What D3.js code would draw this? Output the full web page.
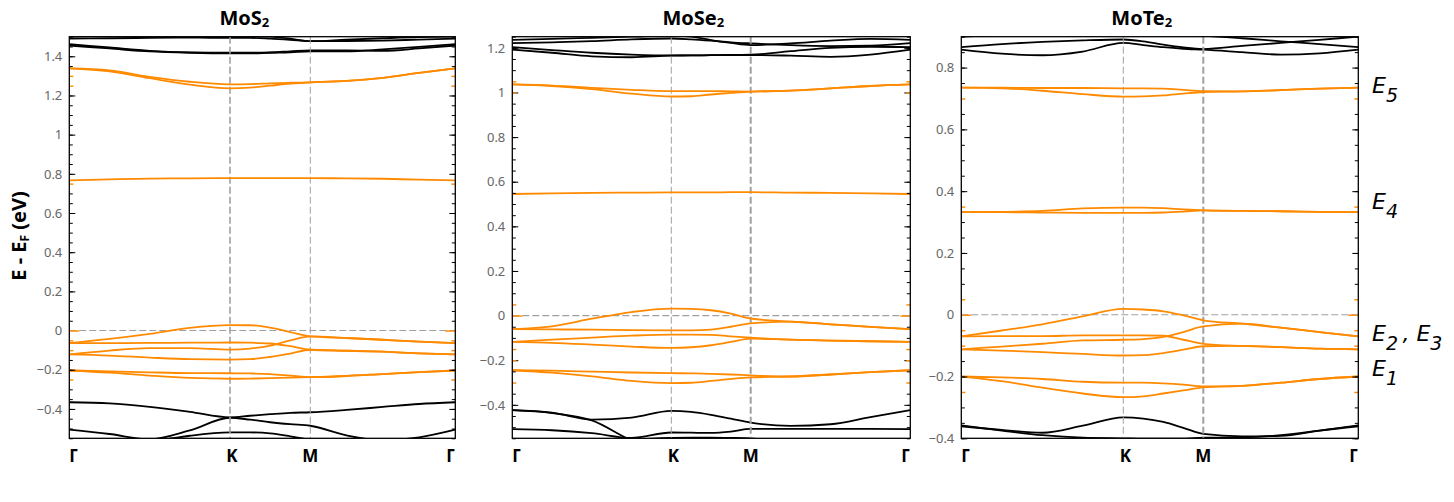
<!DOCTYPE html>
<html>
<head>
<meta charset="utf-8">
<script src="https://cdn.jsdelivr.net/npm/d3@7"></script>
<style>
  body { margin: 0; background: #fff; }
  svg { display: block; font-family: "Noto Sans", "Open Sans", sans-serif; }
</style>
</head>
<body>
<svg id="chart" width="1454" height="502"></svg>
<script>
// k-path positions: 0 = Γ, 1 = K, 2 = M, 3 = Γ
var kGrid = [0, 0.25, 0.5, 0.75, 1, 1.25, 1.5, 1.75, 2, 2.25, 2.5, 2.75, 3];
var kNames = ["Γ", "K", "M", "Γ"];
var kPos = [0, 1, 2, 3];

// y tick labels per panel
var mos2Ticks = [-0.4, -0.2, 0, 0.2, 0.4, 0.6, 0.8, 1, 1.2, 1.4];
var mose2Ticks = [-0.4, -0.2, 0, 0.2, 0.4, 0.6, 0.8, 1, 1.2];
var mote2Ticks = [-0.4, -0.2, 0, 0.2, 0.4, 0.6, 0.8];

// minor ticks that show in orange on the frame
var mos2OrangeTicks = [1.3, 1.25, 0.75, 0, -0.05, -0.1, -0.25];
var mose2OrangeTicks = [1.05, 1.0, 0.05, 0, -0.15, -0.2, -0.3];
var mote2OrangeTicks = [0.7, 0.35, 0.05, 0, -0.05, -0.1, -0.25];

// MoS2 bands (eV), read on kGrid
var mos2Orange = [
  [1.338, 1.328, 1.295, 1.27, 1.257, 1.258, 1.262, 1.265, 1.267, 1.274, 1.29, 1.315, 1.338],
  [1.338, 1.323, 1.288, 1.255, 1.236, 1.24, 1.25, 1.26, 1.267, 1.274, 1.29, 1.315, 1.338],
  [0.767, 0.772, 0.776, 0.777, 0.778, 0.778, 0.778, 0.778, 0.778, 0.777, 0.775, 0.77, 0.767],
  [-0.064, -0.043, -0.017, 0.014, 0.028, 0.027, 0.015, -0.008, -0.03, -0.038, -0.047, -0.057, -0.064],
  [-0.064, -0.064, -0.063, -0.062, -0.061, -0.062, -0.066, -0.08, -0.098, -0.103, -0.108, -0.116, -0.122],
  [-0.122, -0.102, -0.09, -0.09, -0.097, -0.092, -0.077, -0.05, -0.03, -0.038, -0.047, -0.057, -0.064],
  [-0.122, -0.128, -0.138, -0.146, -0.148, -0.146, -0.135, -0.118, -0.098, -0.103, -0.108, -0.116, -0.122],
  [-0.204, -0.208, -0.213, -0.217, -0.218, -0.219, -0.222, -0.23, -0.238, -0.232, -0.222, -0.212, -0.204],
  [-0.204, -0.215, -0.23, -0.242, -0.246, -0.245, -0.243, -0.24, -0.238, -0.232, -0.222, -0.212, -0.204]
];
var mos2Black = [
  [1.50, 1.505, 1.51, 1.51, 1.51, 1.505, 1.50, 1.49, 1.477, 1.478, 1.48, 1.485, 1.49],
  [1.49, 1.492, 1.494, 1.495, 1.494, 1.494, 1.49, 1.484, 1.477, 1.485, 1.492, 1.498, 1.50],
  [1.462, 1.445, 1.428, 1.42, 1.418, 1.418, 1.42, 1.425, 1.43, 1.43, 1.428, 1.44, 1.455],
  [1.455, 1.44, 1.425, 1.418, 1.415, 1.415, 1.418, 1.42, 1.425, 1.425, 1.435, 1.448, 1.462],
  [-0.366, -0.372, -0.39, -0.415, -0.443, -0.435, -0.427, -0.42, -0.417, -0.405, -0.39, -0.375, -0.366],
  [-0.506, -0.528, -0.555, -0.51, -0.445, -0.455, -0.468, -0.478, -0.486, -0.535, -0.56, -0.545, -0.506],
  [-0.62, -0.61, -0.57, -0.537, -0.52, -0.52, -0.525, -0.54, -0.558, -0.6, -0.62, -0.62, -0.62]
];

// MoSe2 bands
var mose2Orange = [
  [1.036, 1.031, 1.021, 1.012, 1.006, 1.006, 1.006, 1.005, 1.004, 1.008, 1.018, 1.029, 1.036],
  [1.036, 1.029, 1.015, 0.995, 0.982, 0.983, 0.991, 0.998, 1.004, 1.008, 1.018, 1.029, 1.036],
  [0.545, 0.548, 0.55, 0.551, 0.552, 0.552, 0.552, 0.553, 0.553, 0.551, 0.55, 0.548, 0.545],
  [-0.061, -0.048, -0.014, 0.016, 0.031, 0.03, 0.024, 0.009, -0.013, -0.027, -0.039, -0.051, -0.061],
  [-0.061, -0.062, -0.063, -0.065, -0.066, -0.066, -0.063, -0.05, -0.035, -0.027, -0.039, -0.051, -0.061],
  [-0.118, -0.108, -0.099, -0.09, -0.085, -0.085, -0.086, -0.093, -0.099, -0.108, -0.112, -0.115, -0.118],
  [-0.118, -0.122, -0.13, -0.139, -0.145, -0.142, -0.133, -0.118, -0.103, -0.108, -0.112, -0.115, -0.118],
  [-0.245, -0.247, -0.251, -0.255, -0.258, -0.259, -0.261, -0.264, -0.268, -0.273, -0.264, -0.253, -0.245],
  [-0.245, -0.256, -0.272, -0.293, -0.303, -0.301, -0.293, -0.284, -0.277, -0.273, -0.264, -0.253, -0.245]
];
var mose2Black = [
  [1.192, 1.178, 1.162, 1.158, 1.165, 1.166, 1.167, 1.168, 1.168, 1.165, 1.16, 1.17, 1.192],
  [1.203, 1.19, 1.178, 1.17, 1.166, 1.166, 1.167, 1.168, 1.169, 1.185, 1.2, 1.205, 1.203],
  [1.221, 1.225, 1.23, 1.238, 1.242, 1.238, 1.232, 1.225, 1.22, 1.212, 1.208, 1.21, 1.221],
  [1.236, 1.24, 1.245, 1.25, 1.255, 1.25, 1.235, 1.222, 1.212, 1.22, 1.232, 1.24, 1.236],
  [-0.424, -0.435, -0.466, -0.457, -0.427, -0.432, -0.445, -0.462, -0.48, -0.494, -0.487, -0.455, -0.424],
  [-0.424, -0.437, -0.47, -0.56, -0.62, -0.62, -0.62, -0.62, -0.62, -0.62, -0.62, -0.62, -0.62],
  [-0.509, -0.514, -0.527, -0.548, -0.524, -0.525, -0.526, -0.52, -0.508, -0.508, -0.508, -0.508, -0.509],
  [-0.65, -0.63, -0.6, -0.56, -0.548, -0.547, -0.547, -0.548, -0.55, -0.57, -0.6, -0.63, -0.65]
];

// MoTe2 bands
var mote2Orange = [
  [0.735, 0.735, 0.734, 0.734, 0.733, 0.733, 0.732, 0.728, 0.724, 0.723, 0.727, 0.732, 0.735],
  [0.735, 0.733, 0.725, 0.714, 0.706, 0.707, 0.71, 0.716, 0.721, 0.723, 0.727, 0.732, 0.735],
  [0.332, 0.333, 0.336, 0.344, 0.347, 0.347, 0.345, 0.341, 0.338, 0.336, 0.335, 0.333, 0.332],
  [0.332, 0.332, 0.331, 0.33, 0.33, 0.33, 0.331, 0.334, 0.338, 0.336, 0.335, 0.333, 0.332],
  [-0.07, -0.051, -0.031, -0.005, 0.019, 0.017, 0.011, -0.002, -0.018, -0.029, -0.042, -0.056, -0.07],
  [-0.07, -0.069, -0.069, -0.067, -0.067, -0.067, -0.068, -0.081, -0.094, -0.101, -0.105, -0.11, -0.112],
  [-0.112, -0.103, -0.094, -0.083, -0.081, -0.079, -0.072, -0.056, -0.038, -0.029, -0.042, -0.056, -0.07],
  [-0.112, -0.116, -0.121, -0.127, -0.132, -0.131, -0.124, -0.113, -0.102, -0.101, -0.105, -0.11, -0.112],
  [-0.2, -0.203, -0.208, -0.217, -0.22, -0.22, -0.222, -0.226, -0.232, -0.23, -0.22, -0.208, -0.2],
  [-0.2, -0.215, -0.236, -0.255, -0.267, -0.264, -0.255, -0.245, -0.235, -0.23, -0.22, -0.208, -0.2]
];
var mote2Black = [
  [0.858, 0.845, 0.84, 0.852, 0.88, 0.873, 0.866, 0.861, 0.858, 0.85, 0.842, 0.846, 0.858],
  [0.866, 0.876, 0.883, 0.888, 0.891, 0.885, 0.874, 0.865, 0.86, 0.87, 0.88, 0.89, 0.9],
  [0.9, 0.905, 0.91, 0.91, 0.905, 0.905, 0.905, 0.905, 0.903, 0.895, 0.885, 0.876, 0.866],
  [-0.361, -0.373, -0.382, -0.359, -0.332, -0.336, -0.347, -0.366, -0.386, -0.394, -0.392, -0.375, -0.361],
  [-0.358, -0.375, -0.39, -0.398, -0.4, -0.401, -0.401, -0.401, -0.398, -0.397, -0.39, -0.375, -0.358]
];

// level labels placed beside the MoTe2 panel
var levelNames = ["5", "4", "2", "1"];

var ORANGE = "#ff8a00";
var GRID = "#a0a0a0";
var yTop = 36.7, yBot = 438.3;

var panels = [
  { title: "MoS", x0: 69.3, x1: 455.3, xK: 230, xM: 310.3, dom: [-0.55, 1.5],
    ticks: mos2Ticks, oTicks: mos2OrangeTicks, orange: mos2Orange, black: mos2Black, kw: 1.6, mw: 1 },
  { title: "MoSe", x0: 512.3, x1: 910.3, xK: 671.3, xM: 750.7, dom: [-0.55, 1.25],
    ticks: mose2Ticks, oTicks: mose2OrangeTicks, orange: mose2Orange, black: mose2Black, kw: 1, mw: 2 },
  { title: "MoTe", x0: 961.3, x1: 1358.3, xK: 1123.3, xM: 1203.3, dom: [-0.4, 0.9],
    ticks: mote2Ticks, oTicks: mote2OrangeTicks, orange: mote2Orange, black: mote2Black, kw: 1, mw: 2 }
];

var svg = d3.select("#chart");
svg.append("rect").attr("width", 1454).attr("height", 502).attr("fill", "#fff");
var defs = svg.append("defs");
var fmt = d3.format("~g");

// draws an axis group with no domain line and ticks in the given colour
function tickAxis(xpos, axis, color, width){
  var g = svg.append("g").attr("transform", "translate(" + xpos + ",0)").call(axis);
  g.select(".domain").remove();
  g.selectAll(".tick line").attr("stroke", color).attr("stroke-width", width);
  return g;
}

panels.forEach(function(p, pi){
  var x = d3.scaleLinear().domain(kPos).range([p.x0, p.xK, p.xM, p.x1]);
  var y = d3.scaleLinear().domain(p.dom).range([yBot, yTop]);

  defs.append("clipPath").attr("id", "clip" + pi)
    .append("rect")
    .attr("x", p.x0).attr("y", yTop)
    .attr("width", p.x1 - p.x0).attr("height", yBot - yTop);

  var line = d3.line()
    .x(function(d, i){ return x(kGrid[i]); })
    .y(function(d){ return y(d); })
    .curve(d3.curveMonotoneX);

  var plot = svg.append("g").attr("clip-path", "url(#clip" + pi + ")");

  plot.selectAll("path.black").data(p.black).enter()
    .append("path").attr("class", "black")
    .attr("d", line)
    .attr("fill", "none").attr("stroke", "#000").attr("stroke-width", 1.8);

  // high-symmetry lines and Fermi level
  plot.append("line")
    .attr("x1", x(1)).attr("x2", x(1)).attr("y1", yTop).attr("y2", yBot)
    .attr("stroke", GRID).attr("stroke-width", p.kw).attr("stroke-dasharray", "7,3");
  plot.append("line")
    .attr("x1", x(2)).attr("x2", x(2)).attr("y1", yTop).attr("y2", yBot)
    .attr("stroke", GRID).attr("stroke-width", p.mw).attr("stroke-dasharray", "7,3");
  plot.append("line")
    .attr("x1", p.x0).attr("x2", p.x1).attr("y1", y(0)).attr("y2", y(0))
    .attr("stroke", GRID).attr("stroke-width", 1.1).attr("stroke-dasharray", "7,3");

  plot.selectAll("path.orange").data(p.orange).enter()
    .append("path").attr("class", "orange")
    .attr("d", line)
    .attr("fill", "none").attr("stroke", ORANGE).attr("stroke-width", 1.8);

  // ticks
  var minor = d3.range(Math.ceil(p.dom[0] / 0.05 - 1e-9), Math.floor(p.dom[1] / 0.05 + 1e-9) + 1)
    .map(function(i){ return +(i * 0.05).toFixed(2); })
    .filter(function(v){ return p.oTicks.indexOf(v) < 0; });
  var major = p.ticks.filter(function(v){ return v !== 0; });

  var axL = tickAxis(p.x0, d3.axisLeft(y).tickValues(major).tickSize(-6).tickPadding(7).tickFormat(fmt), "#000", 1);
  // zero label (its tick is the orange one)
  axL.append("text").attr("x", -7).attr("y", y(0)).attr("dy", "0.32em")
    .attr("text-anchor", "end").text("0");
  axL.selectAll("text").attr("fill", "#666").style("font-size", "13px")
    .style("font-family", '"Noto Sans", sans-serif');

  tickAxis(p.x0, d3.axisLeft(y).tickValues(minor).tickSize(-3.5).tickFormat(""), "#000", 1);
  tickAxis(p.x1, d3.axisRight(y).tickValues(major).tickSize(-6).tickFormat(""), "#000", 1);
  tickAxis(p.x1, d3.axisRight(y).tickValues(minor).tickSize(-3.5).tickFormat(""), "#000", 1);

  // orange frame ticks (the zero one runs a bit longer)
  var oL = tickAxis(p.x0, d3.axisLeft(y).tickValues(p.oTicks).tickSize(-4).tickFormat(""), ORANGE, 1.4);
  var oR = tickAxis(p.x1, d3.axisRight(y).tickValues(p.oTicks).tickSize(-4).tickFormat(""), ORANGE, 1.4);
  oL.selectAll(".tick line").attr("x2", function(d){ return d === 0 ? 10 : 4; });
  oR.selectAll(".tick line").attr("x2", function(d){ return d === 0 ? -10 : -4; });

  // frame
  svg.append("rect")
    .attr("x", p.x0).attr("y", yTop)
    .attr("width", p.x1 - p.x0).attr("height", yBot - yTop)
    .attr("fill", "none").attr("stroke", "#000").attr("stroke-width", 1.3);

  // k labels
  svg.selectAll(null).data(kNames).enter().append("text")
    .attr("x", function(d, i){ return x(kPos[i]) + (i === 1 ? 2 : 0); })
    .attr("y", 461.5)
    .attr("text-anchor", function(d, i){ return i === 0 ? "start" : (i === 3 ? "end" : "middle"); })
    .style("font-size", "17px").style("font-weight", "bold")
    .text(function(d){ return d; });

  // title
  var t = svg.append("text")
    .attr("x", (p.x0 + p.x1) / 2 - 18).attr("y", 25)
    .attr("text-anchor", "middle")
    .style("font-size", "20px").style("font-weight", "bold");
  t.append("tspan").text(p.title);
  t.append("tspan").attr("dy", 2).style("font-size", "13px").text("2");
});

// y-axis label
var yl = svg.append("text")
  .attr("transform", "translate(26,236) rotate(-90)")
  .attr("text-anchor", "middle")
  .style("font-size", "20px").style("font-weight", "bold");
yl.append("tspan").text("E - E");
yl.append("tspan").attr("dy", 3).style("font-size", "12px").text("F");
yl.append("tspan").attr("dy", -3).text(" (eV)");

// level labels next to MoTe2
var lab = svg.append("g")
  .style("font-family", '"DejaVu Sans", sans-serif')
  .style("font-style", "italic");
var levelY = [93, 209, 341, 376];
levelNames.forEach(function(n, i){
  var tx = lab.append("text").attr("x", 1372).attr("y", levelY[i]).style("font-size", "22px");
  tx.append("tspan").text("E");
  tx.append("tspan").attr("dy", 9).style("font-size", "19px").text(n);
  if (n === "2") {
    tx.append("tspan").attr("dy", -9).text("\u2009, E");
    tx.append("tspan").attr("dy", 9).style("font-size", "19px").text("3");
  }
});
</script>
</body>
</html>
